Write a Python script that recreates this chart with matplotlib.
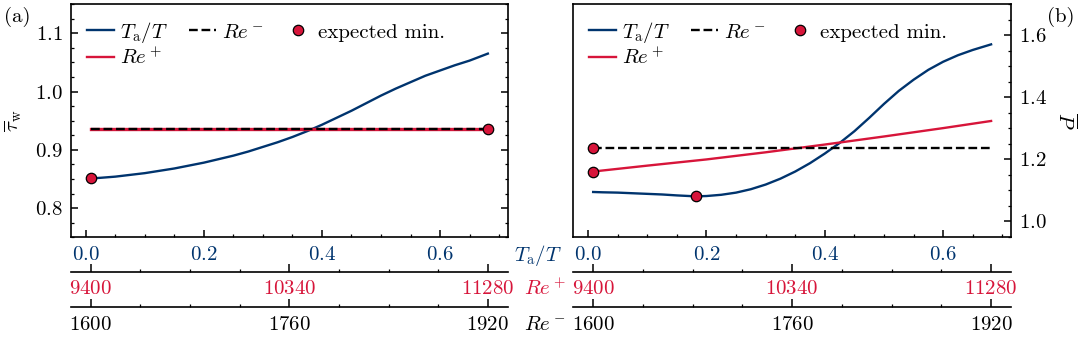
import numpy as np
import matplotlib
matplotlib.use("Agg")
import matplotlib.pyplot as plt
from matplotlib.ticker import MultipleLocator, FixedLocator

plt.rcParams['font.family'] = 'serif'
plt.rcParams['font.serif'] = ['cmr10', 'DejaVu Serif']
plt.rcParams['mathtext.fontset'] = 'cm'
plt.rcParams['axes.formatter.use_mathtext'] = True
plt.rcParams['font.size'] = 15

BLUE = '#00346e'
RED = '#d7153a'

# ---- data ----
# panel (a): mean wall shear stress
ta_a = [0.0085, 0.025, 0.05, 0.075, 0.1, 0.125, 0.15, 0.175, 0.2, 0.225, 0.25, 0.275,
        0.3, 0.325, 0.35, 0.375, 0.4, 0.425, 0.45, 0.475, 0.5, 0.525, 0.55, 0.575,
        0.6, 0.625, 0.65, 0.681]
tau_ta = [0.851, 0.852, 0.854, 0.857, 0.860, 0.864, 0.868, 0.873, 0.878, 0.884, 0.890, 0.897,
          0.905, 0.913, 0.922, 0.932, 0.943, 0.955, 0.967, 0.980, 0.993, 1.005, 1.016, 1.027,
          1.036, 1.045, 1.053, 1.065]
tau_re_plus = [0.936, 0.936]
tau_re_minus = [0.936, 0.936]
min_a_x = [0.0085, 0.681]
min_a_y = [0.851, 0.936]

# panel (b): mean power
ta_b = [0.0085, 0.025, 0.05, 0.075, 0.1, 0.125, 0.15, 0.1815, 0.2, 0.225, 0.25, 0.275,
        0.3, 0.325, 0.35, 0.375, 0.4, 0.425, 0.45, 0.475, 0.5, 0.525, 0.55, 0.575,
        0.6, 0.625, 0.65, 0.681]
p_ta = [1.094, 1.093, 1.092, 1.090, 1.088, 1.086, 1.083, 1.080, 1.081, 1.085, 1.092, 1.103,
        1.118, 1.137, 1.160, 1.187, 1.218, 1.252, 1.290, 1.333, 1.378, 1.420, 1.456, 1.488,
        1.514, 1.535, 1.552, 1.570]
ta_re_plus_b = [0.0085, 0.1, 0.2, 0.3, 0.4, 0.5, 0.6, 0.681]
p_re_plus = [1.160, 1.179, 1.199, 1.222, 1.247, 1.273, 1.300, 1.323]
p_re_minus = [1.236, 1.236]
min_b_x = [0.0085, 0.0085, 0.1815]
min_b_y = [1.236, 1.160, 1.080]

x0, x1 = 0.0085, 0.681
re_plus_range = (9400, 11280)
re_minus_range = (1600, 1920)
re_plus_ticks = [9400, 10340, 11280]
re_minus_ticks = [1600, 1760, 1920]


def mk_map(lo, hi):
    fwd = lambda x: lo + (np.asarray(x) - x0) / (x1 - x0) * (hi - lo)
    inv = lambda r: x0 + (np.asarray(r) - lo) / (hi - lo) * (x1 - x0)
    return fwd, inv


fig = plt.figure(figsize=(10.8, 3.38), dpi=100)
ax_a = fig.add_axes([0.0657, 0.298, 0.4044, 0.690])
ax_b = fig.add_axes([0.5308, 0.298, 0.4053, 0.690])

lw = 1.7
for ax, tx, ty, rx, ry, rmy, mx, my in [
        (ax_a, ta_a, tau_ta, [x0, x1], tau_re_plus, tau_re_minus, min_a_x, min_a_y),
        (ax_b, ta_b, p_ta, ta_re_plus_b, p_re_plus, p_re_minus, min_b_x, min_b_y)]:
    l1, = ax.plot(tx, ty, color=BLUE, lw=lw, label=r'$T_\mathrm{a}/T$')
    l2, = ax.plot(rx, ry, color=RED, lw=lw if ax is ax_b else 2.4, label=r'$Re^+$')
    l3, = ax.plot([x0, x1], rmy, color='black', ls='--', lw=lw, label=r'$Re^-$')
    l4, = ax.plot(mx, my, 'o', ms=7.5, mfc=RED, mec='black', mew=0.9,
                  label='expected min.', zorder=5)
    leg = ax.legend(handles=[l1, l2, l3, l4], loc='upper left', ncol=3, frameon=False,
                    handlelength=1.3, handletextpad=0.3, columnspacing=1.0,
                    labelspacing=0.1, borderaxespad=0.45, borderpad=0.3)
    leg.legend_handles[1].set_linewidth(lw)

    ax.xaxis.set_major_locator(MultipleLocator(0.2))
    ax.xaxis.set_minor_locator(MultipleLocator(0.05))
    ax.tick_params(axis='x', which='both', direction='in', top=False, colors='black',
                   labelcolor=BLUE, pad=6)
    ax.tick_params(which='major', length=5, width=1.1)
    ax.tick_params(which='minor', length=2.5, width=0.9)
    for s in ax.spines.values():
        s.set_linewidth(1.2)

    fp, ip = mk_map(*re_plus_range)
    sec1 = ax.secondary_xaxis(-0.147, functions=(fp, ip))
    sec1.xaxis.set_major_locator(FixedLocator(re_plus_ticks))
    sec1.xaxis.set_minor_locator(MultipleLocator(235))
    sec1.tick_params(which='both', direction='in', labelcolor=RED, pad=6)
    sec1.tick_params(which='major', length=5.5, width=1.1)
    sec1.tick_params(which='minor', length=2.5, width=0.9)
    sec1.spines['bottom'].set_linewidth(1.2)

    fm, im = mk_map(*re_minus_range)
    sec2 = ax.secondary_xaxis(-0.300, functions=(fm, im))
    sec2.xaxis.set_major_locator(FixedLocator(re_minus_ticks))
    sec2.xaxis.set_minor_locator(MultipleLocator(40))
    sec2.tick_params(which='both', direction='in', pad=6)
    sec2.tick_params(which='major', length=5.5, width=1.1)
    sec2.tick_params(which='minor', length=2.5, width=0.9)
    sec2.spines['bottom'].set_linewidth(1.2)

# panel (a) y axis
ax_a.set_ylim(0.75, 1.15)
ax_a.yaxis.set_major_locator(MultipleLocator(0.1))
ax_a.yaxis.set_minor_locator(MultipleLocator(0.025))
ax_a.tick_params(axis='y', which='both', direction='in', left=True, right=True, pad=6)
ax_a.set_ylabel(r'$\overline{\tau}_\mathrm{w}$', labelpad=8)

# panel (b) y axis on the right
ax_b.set_ylim(0.948, 1.70)
ax_b.yaxis.set_major_locator(MultipleLocator(0.2))
ax_b.yaxis.set_minor_locator(MultipleLocator(0.05))
ax_b.yaxis.tick_right()
ax_b.yaxis.set_label_position('right')
ax_b.tick_params(axis='y', which='both', direction='in', left=False, right=True, pad=6)
ax_b.set_ylabel(r'$\overline{P}$', rotation=270, labelpad=22)

# axis names to the right of panel (a)
fig.text(514 / 1080, 1 - 260.7 / 338, r'$T_\mathrm{a}/T$', color=BLUE, va='baseline', fontsize=15)
fig.text(524 / 1080, 1 - 295 / 338, r'$Re^+$', color=RED, va='baseline', fontsize=15)
fig.text(524 / 1080, 1 - 330 / 338, r'$Re^-$', color='black', va='baseline', fontsize=15)

fig.text(17.5 / 1080, 1 - 16.5 / 338, '(a)', ha='center', va='center', fontsize=15)
fig.text(1061 / 1080, 1 - 16.5 / 338, '(b)', ha='center', va='center', fontsize=15)

fig.savefig('out.png', dpi=100)
